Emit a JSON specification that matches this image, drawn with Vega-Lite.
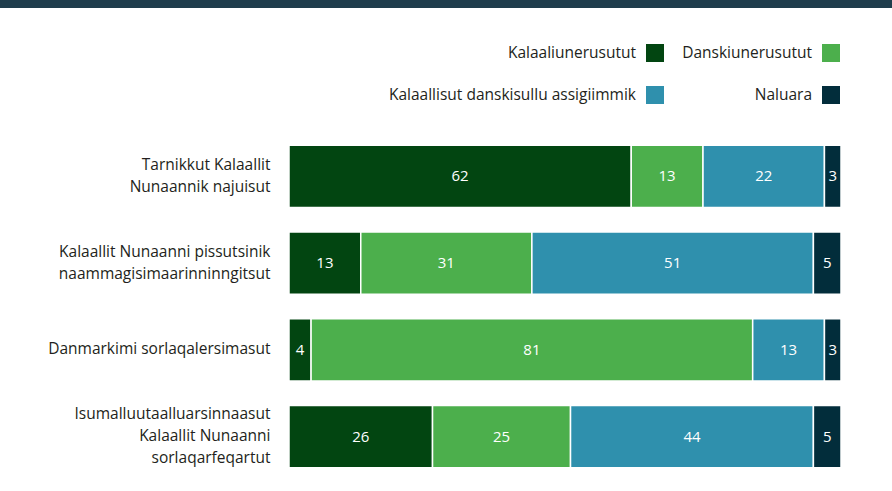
{
  "$schema": "https://vega.github.io/schema/vega-lite/v6.json",
  "padding": 0,
  "background": "white",
  "spacing": 125,
  "config": {"view": {"stroke": null}, "font": "Open Sans"},
  "vconcat": [
    {
      "width": 892,
      "height": 8,
      "view": {"fill": "#1f3d4c", "stroke": null},
      "data": {"values": [{}]},
      "mark": {"type": "point", "size": 0, "opacity": 0, "strokeWidth": 0}
    },
    {
      "spacing": 0,
      "hconcat": [
        {
          "width": 1,
          "height": 347,
          "data": {"values": [{}]},
          "mark": {"type": "point", "size": 0, "opacity": 0, "strokeWidth": 0}
        },
        {
          "width": 552,
          "height": 347,
          "data": {
            "values": [
              {"question": "Tarnikkut Kalaallit|Nunaannik najuisut", "cat": "Kalaaliunerusutut", "ord": 1, "value": 62, "label": "62"},
              {"question": "Tarnikkut Kalaallit|Nunaannik najuisut", "cat": "Danskiunerusutut", "ord": 2, "value": 13, "label": "13"},
              {"question": "Tarnikkut Kalaallit|Nunaannik najuisut", "cat": "Kalaallisut danskisullu assigiimmik", "ord": 3, "value": 22, "label": "22"},
              {"question": "Tarnikkut Kalaallit|Nunaannik najuisut", "cat": "Naluara", "ord": 4, "value": 3, "label": "3"},
              {"question": "Kalaallit Nunaanni pissutsinik|naammagisimaarinninngitsut", "cat": "Kalaaliunerusutut", "ord": 1, "value": 13, "label": "13"},
              {"question": "Kalaallit Nunaanni pissutsinik|naammagisimaarinninngitsut", "cat": "Danskiunerusutut", "ord": 2, "value": 31, "label": "31"},
              {"question": "Kalaallit Nunaanni pissutsinik|naammagisimaarinninngitsut", "cat": "Kalaallisut danskisullu assigiimmik", "ord": 3, "value": 51, "label": "51"},
              {"question": "Kalaallit Nunaanni pissutsinik|naammagisimaarinninngitsut", "cat": "Naluara", "ord": 4, "value": 5, "label": "5"},
              {"question": "Danmarkimi sorlaqalersimasut", "cat": "Kalaaliunerusutut", "ord": 1, "value": 4, "label": "4"},
              {"question": "Danmarkimi sorlaqalersimasut", "cat": "Danskiunerusutut", "ord": 2, "value": 80, "label": "81"},
              {"question": "Danmarkimi sorlaqalersimasut", "cat": "Kalaallisut danskisullu assigiimmik", "ord": 3, "value": 13, "label": "13"},
              {"question": "Danmarkimi sorlaqalersimasut", "cat": "Naluara", "ord": 4, "value": 3, "label": "3"},
              {"question": "Isumalluutaalluarsinnaasut|Kalaallit Nunaanni|sorlaqarfeqartut", "cat": "Kalaaliunerusutut", "ord": 1, "value": 26, "label": "26"},
              {"question": "Isumalluutaalluarsinnaasut|Kalaallit Nunaanni|sorlaqarfeqartut", "cat": "Danskiunerusutut", "ord": 2, "value": 25, "label": "25"},
              {"question": "Isumalluutaalluarsinnaasut|Kalaallit Nunaanni|sorlaqarfeqartut", "cat": "Kalaallisut danskisullu assigiimmik", "ord": 3, "value": 44, "label": "44"},
              {"question": "Isumalluutaalluarsinnaasut|Kalaallit Nunaanni|sorlaqarfeqartut", "cat": "Naluara", "ord": 4, "value": 5, "label": "5"}
            ]
          },
          "encoding": {
            "y": {
              "field": "question",
              "type": "nominal",
              "sort": null,
              "scale": {"paddingInner": 0.285, "paddingOuter": 0.1425},
              "axis": {
                "title": null,
                "domain": false,
                "ticks": false,
                "labelPadding": 19,
                "minExtent": 288,
                "labelLimit": 400,
                "labelFont": "Open Sans",
                "labelFontSize": 15.5,
                "labelColor": "#231f20",
                "labelLineHeight": 22,
                "labelOffset": -11,
                "labelBaseline": {
                  "condition": [
                    {"test": "indexof(datum.label, '|') < 0", "value": "line-top"},
                    {"test": "length(split(datum.label, '|')) == 3", "value": "line-bottom"}
                  ],
                  "value": "middle"
                },
                "labelExpr": "split(datum.label, '|')"
              }
            }
          },
          "layer": [
            {
              "mark": {"type": "bar", "stroke": "white", "strokeWidth": 1.5},
              "encoding": {
                "x": {"field": "value", "type": "quantitative", "stack": "zero", "scale": {"domain": [0, 100], "nice": false}, "axis": null},
                "color": {
                  "field": "cat",
                  "type": "nominal",
                  "scale": {
                    "domain": ["Kalaaliunerusutut", "Danskiunerusutut", "Kalaallisut danskisullu assigiimmik", "Naluara"],
                    "range": ["#024511", "#4caf4c", "#2f90ad", "#022d3b"]
                  },
                  "legend": {
                    "orient": "none",
                    "legendX": 646,
                    "legendY": 44,
                    "direction": "horizontal",
                    "columns": 2,
                    "title": null,
                    "symbolType": "square",
                    "symbolSize": 324,
                    "symbolStrokeWidth": 0,
                    "symbolOpacity": 1,
                    "labelFont": "Open Sans",
                    "labelFontSize": 15.5,
                    "labelColor": "#231f20",
                    "labelAlign": "right",
                    "labelOffset": -28,
                    "labelLimit": 400,
                    "columnPadding": 18,
                    "rowPadding": 24,
                    "gridAlign": "each",
                    "padding": 0
                  }
                },
                "order": {"field": "ord"}
              }
            },
            {
              "mark": {"type": "text", "fill": "white", "font": "Open Sans", "fontSize": 15},
              "encoding": {
                "x": {"field": "value", "type": "quantitative", "stack": "zero", "bandPosition": 0.5},
                "detail": {"field": "cat"},
                "order": {"field": "ord"},
                "text": {"field": "label"}
              }
            }
          ]
        }
      ]
    }
  ]
}
